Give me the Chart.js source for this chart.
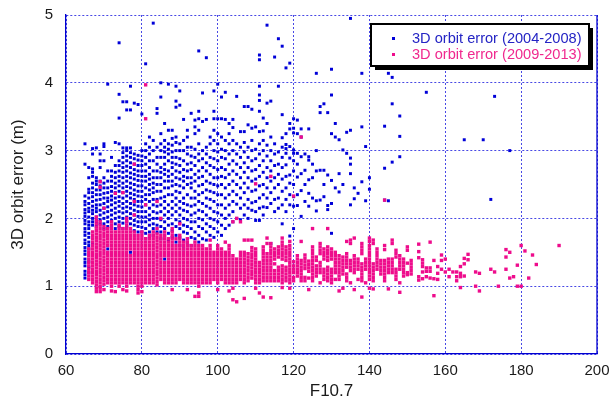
<!DOCTYPE html>
<html>
<head>
<meta charset="utf-8">
<title>3D orbit error vs F10.7</title>
<script src="https://cdn.jsdelivr.net/npm/chart.js@4.4.1/dist/chart.umd.min.js"></script>
<style>
  html, body { margin: 0; padding: 0; background: #fff; }
  #chart { display: block; }
</style>
</head>
<body>
<canvas id="chart" width="611" height="412"></canvas>
<script>
// axis ticks
const xTicks = [60, 80, 100, 120, 140, 160, 180, 200];
const yTicks = [0, 1, 2, 3, 4, 5];

const seriesNames = ['3D orbit error (2004-2008)', '3D orbit error (2009-2013)'];
const seriesColors = ['#0000d8', '#ee0c8c'];
const legendTextColors = ['#2424c4', '#f0288e'];

// 2004-2008: [F10.7, [3D orbit error (m), ...]]
const err0408 = [
  [65, [1.12, 1.17, 1.22, 1.3, 1.35, 1.4, 1.47, 1.52, 1.57, 1.63, 1.68, 1.75, 1.8, 1.85, 1.92, 1.97, 2.03, 2.08, 2.13, 2.2, 2.25, 2.33, 2.8, 3.1]],
  [66, [1.2, 1.28, 1.36, 1.55, 1.6, 1.65, 1.72, 1.78, 1.85, 1.9, 1.95, 2.02, 2.1, 2.15, 2.22, 2.3, 2.38, 2.43, 2.6, 2.75]],
  [67, [1.62, 1.9, 1.95, 2.0, 2.07, 2.12, 2.18, 2.25, 2.32, 2.38, 2.45, 2.52, 2.62, 2.68, 2.73, 2.95, 3.03]],
  [68, [1.88, 1.95, 2.02, 2.1, 2.15, 2.2, 2.27, 2.35, 2.42, 2.5, 2.55, 2.6, 3.04]],
  [69, [1.92, 1.98, 2.05, 2.12, 2.2, 2.28, 2.35, 2.42, 2.48, 2.55, 2.75, 2.85, 2.95]],
  [70, [1.85, 1.92, 2.0, 2.08, 2.15, 2.22, 2.3, 2.37, 2.45, 2.52, 2.6, 2.85, 3.06, 3.1]],
  [71, [1.55, 1.88, 1.95, 2.02, 2.1, 2.17, 2.25, 2.3, 2.38, 2.45, 2.55, 2.7, 3.98]],
  [72, [1.9, 1.97, 2.05, 2.12, 2.2, 2.27, 2.33, 2.4, 2.47, 2.55, 2.62, 2.7, 2.9]],
  [73, [1.85, 1.92, 2.0, 2.08, 2.15, 2.23, 2.3, 2.38, 2.45, 2.52, 2.6, 2.68, 2.78, 3.12]],
  [74, [1.88, 1.95, 2.02, 2.1, 2.18, 2.25, 2.32, 2.4, 2.48, 2.55, 2.62, 2.7, 2.78, 2.85, 3.1, 3.48, 3.83, 4.59]],
  [75, [1.85, 1.93, 2.0, 2.08, 2.15, 2.22, 2.3, 2.38, 2.45, 2.52, 2.6, 2.68, 2.75, 2.82, 2.9, 2.97, 3.04, 3.72]],
  [76, [1.88, 1.95, 2.02, 2.1, 2.17, 2.25, 2.33, 2.4, 2.47, 2.55, 2.62, 2.7, 2.77, 2.85, 2.92, 3.0, 3.04, 3.6, 3.72]],
  [77, [1.5, 1.85, 1.92, 2.0, 2.07, 2.15, 2.22, 2.3, 2.37, 2.45, 2.52, 2.6, 2.67, 2.75, 2.82, 2.9, 2.97, 3.04, 3.6, 3.95]],
  [78, [1.82, 1.9, 1.97, 2.05, 2.12, 2.2, 2.28, 2.35, 2.42, 2.5, 2.58, 2.65, 2.72, 2.8, 2.88, 2.95, 3.7]],
  [79, [1.8, 1.88, 1.95, 2.03, 2.1, 2.18, 2.25, 2.33, 2.4, 2.48, 2.56, 2.63, 2.7, 2.78, 2.86, 2.93, 3.68]],
  [80, [1.8, 1.87, 1.95, 2.02, 2.1, 2.17, 2.25, 2.32, 2.4, 2.48, 2.55, 2.62, 2.7, 2.78, 2.85, 2.92, 3.0, 3.54]],
  [81, [1.7, 1.78, 1.85, 1.95, 2.02, 2.1, 2.2, 2.28, 2.35, 2.45, 2.55, 2.62, 2.7, 2.8, 2.9, 3.0, 3.1, 4.28]],
  [82, [1.72, 1.8, 1.9, 1.98, 2.05, 2.15, 2.25, 2.35, 2.42, 2.5, 2.58, 2.65, 2.75, 2.85, 2.95, 3.05, 3.2]],
  [83, [1.75, 1.85, 1.92, 2.0, 2.1, 2.2, 2.28, 2.38, 2.45, 2.52, 2.6, 2.7, 2.85, 3.0, 3.15, 4.88]],
  [84, [1.8, 1.9, 2.0, 2.08, 2.18, 2.28, 2.4, 2.5, 2.6, 2.7, 2.8, 2.9, 3.05, 3.55, 3.62]],
  [85, [1.7, 1.8, 1.88, 1.98, 2.1, 2.2, 2.3, 2.4, 2.5, 2.6, 2.68, 2.75, 2.9, 3.0, 3.1, 3.25, 3.79, 4.0]],
  [86, [1.4, 1.75, 1.85, 1.95, 2.05, 2.15, 2.25, 2.32, 2.45, 2.55, 2.65, 2.72, 2.8, 2.9, 2.98, 3.05, 3.15, 3.4]],
  [87, [1.68, 1.78, 1.9, 2.0, 2.1, 2.2, 2.35, 2.45, 2.55, 2.62, 2.7, 2.85, 2.95, 3.02, 3.1, 3.3, 3.98]],
  [88, [1.72, 1.82, 1.92, 2.05, 2.15, 2.25, 2.35, 2.48, 2.55, 2.65, 2.75, 2.82, 2.9, 2.98, 3.08, 3.18, 3.3]],
  [89, [1.65, 1.75, 1.88, 1.98, 2.1, 2.2, 2.3, 2.4, 2.5, 2.6, 2.7, 2.8, 2.9, 3.0, 3.12, 3.2, 3.64, 3.73, 3.95]],
  [90, [1.6, 1.72, 1.85, 1.95, 2.05, 2.15, 2.25, 2.38, 2.48, 2.58, 2.68, 2.78, 2.88, 3.0, 3.1, 3.67, 3.88]],
  [91, [1.55, 1.68, 1.8, 1.9, 2.0, 2.12, 2.22, 2.3, 2.45, 2.55, 2.62, 2.72, 2.85, 3.0, 3.15, 3.46]],
  [92, [1.65, 1.78, 1.88, 1.98, 2.1, 2.2, 2.35, 2.5, 2.6, 2.7, 2.8, 2.95, 3.05, 3.2, 3.3]],
  [93, [1.6, 1.72, 1.85, 1.95, 2.05, 2.18, 2.3, 2.45, 2.52, 2.6, 2.72, 2.82, 2.92, 3.05, 3.55]],
  [94, [1.7, 1.8, 1.95, 2.08, 2.2, 2.3, 2.4, 2.55, 2.65, 2.78, 2.9, 3.02, 3.25, 3.35, 3.45]],
  [95, [1.65, 1.75, 1.88, 2.0, 2.12, 2.25, 2.35, 2.48, 2.6, 2.7, 2.85, 2.95, 3.1, 3.3, 3.47, 3.58, 4.47]],
  [96, [1.7, 1.85, 1.98, 2.1, 2.22, 2.38, 2.5, 2.62, 2.75, 2.88, 3.0, 3.43, 3.85]],
  [97, [1.68, 1.8, 1.92, 2.05, 2.18, 2.3, 2.42, 2.55, 2.7, 2.82, 2.95, 3.05, 3.46, 4.37]],
  [98, [1.75, 1.88, 2.0, 2.15, 2.28, 2.4, 2.52, 2.65, 2.78, 2.9, 3.1, 3.2]],
  [99, [1.72, 1.85, 1.98, 2.1, 2.25, 2.38, 2.5, 2.6, 2.75, 2.88, 3.0, 3.15, 3.3, 3.47, 3.58, 3.88]],
  [100, [1.8, 1.95, 2.08, 2.2, 2.35, 2.48, 2.6, 2.72, 2.85, 2.98, 3.1, 3.25, 3.47, 3.98]],
  [101, [1.75, 1.9, 2.05, 2.2, 2.35, 2.5, 2.62, 2.75, 2.9, 3.02, 3.2, 3.47, 3.79]],
  [102, [1.85, 2.0, 2.15, 2.3, 2.45, 2.6, 2.72, 2.88, 3.0, 3.15, 3.46, 3.86]],
  [103, [1.9, 2.05, 2.2, 2.35, 2.5, 2.65, 2.8, 2.95, 3.1, 3.25, 3.4]],
  [104, [1.95, 2.1, 2.25, 2.4, 2.55, 2.7, 2.85, 3.0, 3.15, 3.34, 3.46]],
  [105, [2.0, 2.21, 2.35, 2.5, 2.65, 2.8, 2.95, 3.1, 3.8]],
  [106, [1.98, 2.15, 2.3, 2.45, 2.6, 2.75, 2.9, 3.05, 3.28]],
  [107, [2.05, 2.2, 2.38, 2.52, 2.68, 2.82, 2.98, 3.12, 3.28, 3.65]],
  [108, [2.0, 2.15, 2.28, 2.45, 2.6, 2.75, 2.9, 3.05, 3.38, 3.65]],
  [109, [2.12, 2.23, 2.4, 2.55, 2.7, 2.85, 3.0, 3.15, 3.33, 3.61]],
  [110, [1.97, 2.1, 2.25, 2.42, 2.58, 2.72, 2.88, 3.02, 3.35]],
  [111, [1.97, 2.15, 2.3, 2.48, 2.62, 2.78, 2.95, 3.1, 3.28, 3.58, 3.74, 3.82, 3.95, 4.34, 4.41]],
  [112, [2.05, 2.17, 2.35, 2.5, 2.68, 2.85, 3.0, 3.15, 3.29, 3.48]],
  [113, [2.16, 2.3, 2.45, 2.6, 2.75, 2.92, 3.08, 3.4, 3.7, 4.85]],
  [114, [1.63, 2.22, 2.38, 2.55, 2.7, 2.85, 3.0, 3.2, 3.73]],
  [115, [2.1, 2.28, 2.45, 2.6, 2.78, 2.95, 3.1, 4.38]],
  [116, [2.15, 2.3, 2.5, 2.65, 2.8, 2.98, 3.95, 4.65]],
  [117, [1.92, 2.2, 2.4, 2.58, 2.75, 2.9, 3.05, 3.19, 3.53, 4.54]],
  [118, [2.1, 2.28, 2.45, 2.62, 2.79, 2.96, 3.03, 3.09, 3.25, 4.22]],
  [119, [1.74, 2.2, 2.35, 2.52, 2.64, 2.89, 3.06, 3.32, 3.4, 4.29]],
  [120, [1.85, 2.18, 2.32, 2.5, 2.7, 2.85, 2.96, 3.01, 3.26, 3.33, 3.47]],
  [121, [2.19, 2.35, 2.61, 2.8, 2.96, 3.25, 3.45]],
  [122, [2.03, 2.41, 2.66, 2.91, 3.2, 3.32]],
  [123, [2.25, 2.5, 2.71, 2.95]],
  [124, [2.18, 2.37, 2.57, 2.86, 2.91, 3.32]],
  [125, [2.3, 2.6, 2.8]],
  [126, [2.11, 2.26, 2.7, 3.0, 4.14]],
  [127, [2.27, 2.71, 3.56, 3.65]],
  [128, [2.32, 2.5, 2.71, 3.69]],
  [129, [2.13, 2.19, 2.64, 3.56]],
  [130, [1.78, 2.22, 2.56, 3.25, 3.82, 4.2]],
  [131, [2.45, 3.2, 3.4]],
  [132, [2.39, 2.66, 3.16]],
  [133, [2.5, 3.01]],
  [134, [2.96, 3.27]],
  [135, [2.2, 2.66, 2.8, 2.89, 3.3, 4.95]],
  [136, [2.29, 2.45]],
  [137, [2.37]],
  [138, [2.54, 3.35, 4.14]],
  [139, [2.26, 3.06]],
  [140, [2.43, 2.6]],
  [144, [2.27, 2.74, 3.36]],
  [145, [2.26, 4.14]],
  [146, [2.83, 3.69, 4.08]],
  [148, [2.91, 3.21, 3.51]],
  [155, [3.86]],
  [165, [3.16]],
  [170, [3.16]],
  [172, [2.28]],
  [173, [3.8]],
  [177, [3.0]]
];

// 2009-2013: [F10.7, [3D orbit error (m), ...]]
const err0913 = [
  [66, [1.1, 1.15, 1.2, 1.25, 1.3, 1.35, 1.4, 1.45, 1.5, 1.55]],
  [67, [1.05, 1.1, 1.15, 1.2, 1.25, 1.3, 1.35, 1.4, 1.45, 1.5, 1.55, 1.6, 1.65, 1.7, 1.75, 1.8]],
  [68, [0.92, 0.97, 1.02, 1.07, 1.12, 1.17, 1.22, 1.27, 1.32, 1.37, 1.42, 1.47, 1.52, 1.57, 1.62, 1.67, 1.72, 1.77, 1.82, 1.87, 1.92, 1.97, 2.02]],
  [69, [0.92, 0.97, 1.0, 1.05, 1.1, 1.15, 1.2, 1.25, 1.3, 1.35, 1.4, 1.45, 1.5, 1.55, 1.6, 1.65, 1.7, 1.75, 1.8, 1.85, 1.9, 1.95, 2.46, 2.54]],
  [70, [0.95, 1.03, 1.08, 1.13, 1.18, 1.23, 1.28, 1.33, 1.38, 1.43, 1.48, 1.53, 1.58, 1.63, 1.68, 1.73, 1.78, 1.83, 1.88, 2.15]],
  [71, [1.05, 1.1, 1.15, 1.2, 1.25, 1.3, 1.35, 1.4, 1.45, 1.5, 1.6, 1.65, 1.7, 1.75, 1.8, 1.85]],
  [72, [0.93, 1.0, 1.05, 1.1, 1.15, 1.2, 1.25, 1.3, 1.35, 1.4, 1.45, 1.5, 1.55, 1.6, 1.65, 1.7, 1.75, 1.8, 1.85, 1.9, 1.95]],
  [73, [0.92, 1.05, 1.1, 1.15, 1.2, 1.25, 1.3, 1.35, 1.4, 1.45, 1.5, 1.55, 1.6, 1.65, 1.7, 1.75, 1.8, 2.37]],
  [74, [1.0, 1.05, 1.1, 1.15, 1.2, 1.25, 1.3, 1.35, 1.4, 1.45, 1.5, 1.55, 1.6, 1.65, 1.7, 1.75, 1.8, 1.85, 1.9]],
  [75, [0.95, 1.05, 1.1, 1.15, 1.2, 1.25, 1.3, 1.35, 1.4, 1.45, 1.5, 1.55, 1.6, 1.65, 1.7, 1.75, 1.8, 1.85, 2.38]],
  [76, [0.93, 1.0, 1.05, 1.1, 1.15, 1.2, 1.25, 1.3, 1.35, 1.4, 1.45, 1.5, 1.55, 1.6, 1.65, 1.7, 1.75, 1.8, 1.85, 1.9, 1.95, 2.0]],
  [77, [1.05, 1.1, 1.15, 1.2, 1.25, 1.3, 1.35, 1.4, 1.45, 1.55, 1.6, 1.65, 1.7, 1.75, 1.8, 1.85]],
  [78, [1.05, 1.1, 1.15, 1.2, 1.25, 1.3, 1.35, 1.4, 1.45, 1.5, 1.55, 1.6, 1.65, 1.7, 1.75, 1.8, 2.05, 2.25, 2.8]],
  [79, [0.9, 0.95, 1.0, 1.05, 1.1, 1.15, 1.2, 1.25, 1.3, 1.35, 1.4, 1.45, 1.5, 1.55, 1.6, 1.65, 1.7, 1.75]],
  [80, [0.92, 1.0, 1.05, 1.1, 1.15, 1.2, 1.25, 1.3, 1.35, 1.4, 1.45, 1.5, 1.55, 1.6, 1.65, 1.7, 1.75, 1.8]],
  [81, [1.05, 1.1, 1.15, 1.2, 1.25, 1.3, 1.35, 1.4, 1.45, 1.5, 1.55, 1.6, 1.65, 1.7, 2.2, 3.47, 3.97]],
  [82, [1.05, 1.1, 1.15, 1.2, 1.25, 1.3, 1.35, 1.4, 1.45, 1.5, 1.55, 1.6, 1.65, 1.7, 1.75]],
  [83, [1.05, 1.1, 1.15, 1.2, 1.25, 1.3, 1.35, 1.4, 1.45, 1.5, 1.55, 1.6, 1.65, 1.7, 1.75, 1.8]],
  [84, [1.02, 1.07, 1.12, 1.17, 1.22, 1.27, 1.32, 1.37, 1.42, 1.47, 1.52, 1.57, 1.62, 1.67, 1.72, 1.77, 1.85, 2.25]],
  [85, [1.1, 1.15, 1.2, 1.25, 1.3, 1.35, 1.4, 1.45, 1.5, 1.55, 1.6, 1.65, 1.7, 1.75, 2.0]],
  [86, [1.05, 1.1, 1.15, 1.2, 1.25, 1.3, 1.35, 1.45, 1.5, 1.55, 1.6, 1.65, 1.7, 1.75, 1.8]],
  [87, [1.05, 1.1, 1.15, 1.2, 1.25, 1.3, 1.35, 1.4, 1.45, 1.5, 1.55, 1.6, 1.65, 1.7]],
  [88, [0.95, 1.05, 1.1, 1.15, 1.2, 1.25, 1.3, 1.35, 1.4, 1.45, 1.5, 1.55, 1.6, 1.65, 1.7, 1.75, 1.8, 1.85]],
  [89, [1.05, 1.1, 1.15, 1.2, 1.25, 1.3, 1.35, 1.4, 1.45, 1.5, 1.55, 1.6, 1.7]],
  [90, [1.1, 1.15, 1.2, 1.25, 1.3, 1.35, 1.4, 1.45, 1.5, 1.55, 1.6, 1.65, 1.7, 1.75, 1.92]],
  [91, [1.05, 1.1, 1.15, 1.2, 1.25, 1.3, 1.35, 1.4, 1.45, 1.5, 1.55, 1.6, 1.65]],
  [92, [0.95, 1.05, 1.1, 1.15, 1.2, 1.25, 1.3, 1.35, 1.4, 1.45, 1.5, 1.55, 1.6, 1.65, 1.7]],
  [93, [1.05, 1.1, 1.15, 1.2, 1.25, 1.3, 1.35, 1.4, 1.45, 1.5, 1.55, 1.6]],
  [94, [0.85, 1.05, 1.1, 1.15, 1.2, 1.25, 1.3, 1.35, 1.4, 1.45, 1.5, 1.55, 1.6, 1.65]],
  [95, [0.85, 0.9, 1.0, 1.05, 1.1, 1.15, 1.2, 1.25, 1.3, 1.35, 1.4, 1.45, 1.5, 1.55, 1.6]],
  [96, [1.05, 1.1, 1.15, 1.2, 1.25, 1.3, 1.35, 1.4, 1.45, 1.5, 1.55, 1.6]],
  [97, [1.05, 1.1, 1.15, 1.2, 1.25, 1.3, 1.35, 1.4, 1.45, 1.5, 1.55]],
  [98, [1.05, 1.1, 1.15, 1.2, 1.25, 1.3, 1.35, 1.4, 1.45, 1.5, 1.55, 1.6, 1.68]],
  [99, [1.1, 1.15, 1.2, 1.25, 1.3, 1.35, 1.4, 1.45, 1.5]],
  [100, [0.95, 1.05, 1.1, 1.15, 1.2, 1.25, 1.3, 1.35, 1.4, 1.45, 1.5, 1.55, 1.6]],
  [101, [1.1, 1.15, 1.2, 1.25, 1.3, 1.35, 1.4, 1.45, 1.5, 1.55]],
  [102, [1.05, 1.1, 1.15, 1.2, 1.25, 1.3, 1.35, 1.4, 1.45, 1.5, 1.65]],
  [103, [0.93, 1.05, 1.1, 1.15, 1.2, 1.25, 1.3, 1.35, 1.4, 1.45, 1.5, 1.55, 1.6]],
  [104, [0.8, 0.97, 1.05, 1.1, 1.15, 1.2, 1.25, 1.3, 1.35, 1.4, 1.45, 1.95]],
  [105, [0.77, 1.05, 1.1, 1.15, 1.2, 1.25, 1.3, 1.35, 1.4, 2.0]],
  [106, [1.1, 1.15, 1.2, 1.25, 1.3, 1.35, 1.4, 1.45, 1.5, 1.95]],
  [107, [0.82, 1.05, 1.1, 1.15, 1.2, 1.25, 1.3, 1.35, 1.4, 1.45, 1.5, 1.68]],
  [108, [1.08, 1.13, 1.18, 1.23, 1.28, 1.33, 1.38, 1.43, 1.48, 1.68]],
  [109, [1.12, 1.17, 1.22, 1.27, 1.32, 1.37, 1.42, 1.47, 1.52, 1.57, 1.68]],
  [110, [0.97, 1.05, 1.1, 1.15, 1.2, 1.25, 1.3, 1.35, 1.4, 1.45, 1.5, 1.55, 2.51]],
  [111, [0.9, 1.05, 1.1, 1.15, 1.2, 1.25, 1.3, 1.35]],
  [112, [0.84, 1.08, 1.13, 1.18, 1.23, 1.28, 1.33, 1.38, 1.43, 1.48, 1.53, 1.58]],
  [113, [1.08, 1.13, 1.18, 1.23, 1.28, 1.33, 1.38, 1.43, 1.48, 1.63, 1.71]],
  [114, [0.83, 1.08, 1.13, 1.18, 1.23, 1.28, 1.33, 1.38, 1.43, 1.48, 1.53, 1.58, 1.63, 2.62]],
  [115, [1.08, 1.13, 1.18, 1.23, 1.33, 1.4, 1.45, 1.5, 1.55]],
  [116, [1.08, 1.13, 1.18, 1.23, 1.28, 1.43, 1.48, 1.53, 1.58]],
  [117, [0.98, 1.05, 1.1, 1.15, 1.2, 1.25, 1.3, 1.4, 1.45, 1.5, 1.55, 1.6, 1.65, 1.71]],
  [118, [1.08, 1.13, 1.18, 1.23, 1.28, 1.38, 1.43, 1.48, 1.53, 1.58]],
  [119, [0.97, 1.05, 1.1, 1.15, 1.2, 1.25, 1.3, 1.35, 1.4, 1.45, 1.5, 1.55, 1.6, 1.66]],
  [120, [1.08, 1.13, 1.2, 1.25, 1.3, 1.36, 2.33]],
  [121, [1.15, 1.2, 1.25, 1.3, 1.35, 1.4, 1.45]],
  [122, [1.08, 1.13, 1.18, 1.23, 1.28, 1.33, 1.38, 1.66, 3.2]],
  [123, [1.08, 1.13, 1.26, 1.31, 1.36, 1.41, 1.46]],
  [124, [0.95, 1.12, 1.22, 1.27, 1.32, 1.37]],
  [125, [1.08, 1.13, 1.18, 1.23, 1.28, 1.33, 1.38, 1.43, 1.48, 1.53, 1.58, 1.85]],
  [126, [1.15, 1.2, 1.25, 1.3, 1.38, 1.43]],
  [127, [1.05, 1.2, 1.25, 1.3, 1.35, 1.48, 1.53, 1.58, 1.63]],
  [128, [1.1, 1.15, 1.2, 1.25, 1.4, 1.45, 1.5, 1.55]],
  [129, [1.08, 1.13, 1.18, 1.23, 1.28, 1.38, 1.43, 1.48, 1.53, 1.58, 1.85]],
  [130, [1.05, 1.1, 1.15, 1.2, 1.25, 1.4, 1.45, 1.5, 1.55]],
  [131, [1.1, 1.2, 1.25, 1.3, 1.35, 1.4, 1.45, 1.5]],
  [132, [0.93, 1.1, 1.15, 1.2, 1.25, 1.3, 1.35, 1.4, 1.45]],
  [133, [0.97, 1.18, 1.23, 1.28, 1.33, 1.38, 1.43]],
  [134, [1.08, 1.13, 1.18, 1.28, 1.33, 1.38, 1.43, 1.48, 1.66]],
  [135, [1.05, 1.23, 1.28, 1.33, 1.38, 1.63, 1.68]],
  [136, [0.95, 1.2, 1.25, 1.3, 1.35, 1.4, 1.45, 1.71]],
  [137, [1.1, 1.25, 1.3, 1.35, 1.4]],
  [138, [0.84, 1.08, 1.13, 1.18, 1.23, 1.28, 1.33, 1.48, 1.53, 1.58, 1.63]],
  [139, [1.05, 1.25, 1.3, 1.35, 1.4]],
  [140, [0.97, 1.1, 1.15, 1.2, 1.25, 1.3, 1.35, 1.4, 1.45, 1.5, 1.55, 1.6, 1.66, 1.71]],
  [141, [0.96, 1.08, 1.13, 1.18, 1.23, 1.28, 1.33, 1.63, 1.68]],
  [142, [1.25, 1.3, 1.35, 1.4, 1.45, 1.5, 1.55]],
  [143, [1.18, 1.23, 1.28, 1.33, 1.38]],
  [144, [1.08, 1.13, 1.18, 1.23, 1.28, 1.33, 1.38, 1.54, 1.6, 2.27]],
  [145, [0.96, 1.2, 1.25, 1.3, 1.35, 1.4]],
  [146, [1.2, 1.25, 1.3, 1.35, 1.4, 1.63, 1.68]],
  [147, [1.1, 1.15, 1.2, 1.25, 1.43, 1.48, 1.53]],
  [148, [0.91, 1.05, 1.25, 1.3, 1.35, 1.4, 1.45]],
  [149, [1.15, 1.2, 1.25, 1.3, 1.35, 1.4]],
  [150, [1.17, 1.2, 1.34, 1.53, 1.58]],
  [151, [1.18, 1.23, 1.28, 1.33, 1.38]],
  [153, [1.09, 1.14, 1.42, 1.51, 1.62]],
  [154, [1.11, 1.21, 1.29, 1.34, 1.39]],
  [155, [1.14, 1.22, 1.27]],
  [156, [1.12, 1.22, 1.27, 1.65]],
  [157, [0.86, 1.11, 1.38]],
  [158, [1.1, 1.19, 1.29]],
  [159, [1.25, 1.38, 1.46]],
  [160, [1.21, 1.4]],
  [161, [1.14, 1.25]],
  [162, [1.21]],
  [163, [1.08, 1.14, 1.21]],
  [164, [0.98, 1.14, 1.19, 1.29]],
  [165, [1.15, 1.33, 1.41]],
  [166, [1.39, 1.47]],
  [168, [1.0, 1.21]],
  [169, [0.93, 1.19]],
  [172, [1.25]],
  [173, [1.21]],
  [174, [1.0]],
  [176, [1.25, 1.43, 1.54]],
  [177, [1.12, 1.5]],
  [178, [1.14]],
  [179, [1.0, 1.31]],
  [180, [1.0, 1.6]],
  [181, [1.52]],
  [182, [1.12]],
  [183, [1.46]],
  [184, [1.32]],
  [190, [1.6]]
];

function toPoints(cols) {
  const pts = [];
  cols.forEach(col => {
    col[1].forEach(e => pts.push({ x: col[0], y: e }));
  });
  return pts;
}

const FONT = 'Arial, "Liberation Sans", sans-serif';

// solid right edge + boxed legend with shadow
const framePlugin = {
  id: 'frame',
  afterDatasetsDraw(chart) {
    const ctx = chart.ctx;
    const a = chart.chartArea;
    ctx.save();
    ctx.strokeStyle = '#0000d0';
    ctx.lineWidth = 1.3;
    ctx.beginPath();
    ctx.moveTo(a.right, a.top);
    ctx.lineTo(a.right, a.bottom);
    ctx.stroke();
    ctx.restore();
  },
  afterDraw(chart) {
    const ctx = chart.ctx;
    const bx = 371, by = 24, bw = 218, bh = 42;
    ctx.save();
    ctx.fillStyle = '#000';
    ctx.fillRect(bx + 4, by + 4, bw, bh);
    ctx.fillStyle = '#fff';
    ctx.fillRect(bx, by, bw, bh);
    ctx.lineWidth = 2;
    ctx.strokeStyle = '#000';
    ctx.strokeRect(bx, by, bw, bh);

    ctx.font = '14.6px ' + FONT;
    ctx.textBaseline = 'middle';
    ctx.textAlign = 'left';
    seriesNames.forEach((name, i) => {
      const y = 38.5 + i * 16;
      ctx.fillStyle = seriesColors[i];
      ctx.fillRect(392, y - 1.5, 3, 3);
      ctx.fillStyle = legendTextColors[i];
      ctx.fillText(name, 412, y);
    });
    ctx.restore();
  }
};

// keep the plot box where the layout padding puts it
function noScalePadding(scale) {
  scale.paddingTop = 0;
  scale.paddingBottom = 0;
  scale.paddingLeft = 0;
  scale.paddingRight = 0;
}

const gridStyle = {
  color: 'rgba(40, 40, 225, 0.85)',
  lineWidth: 1,
  drawTicks: false
};
const borderStyle = { display: true, color: '#0000d0', width: 1.3, dash: [2, 2] };

new Chart(document.getElementById('chart').getContext('2d'), {
  type: 'scatter',
  data: {
    datasets: [
      {
        label: seriesNames[0],
        data: toPoints(err0408),
        backgroundColor: seriesColors[0],
        pointStyle: 'rect',
        pointRadius: 2.1,
        pointBorderWidth: 0,
        order: 2
      },
      {
        label: seriesNames[1],
        data: toPoints(err0913),
        backgroundColor: seriesColors[1],
        pointStyle: 'rect',
        pointRadius: 2.4,
        pointBorderWidth: 0,
        order: 1
      }
    ]
  },
  options: {
    responsive: false,
    animation: false,
    events: [],
    layout: { padding: { left: 0, top: 15, right: 14, bottom: 0 } },
    plugins: {
      legend: { display: false },
      tooltip: { enabled: false }
    },
    scales: {
      x: {
        type: 'linear',
        min: xTicks[0],
        max: xTicks[xTicks.length - 1],
        afterBuildTicks: scale => { scale.ticks = xTicks.map(v => ({ value: v })); },
        afterFit: scale => { scale.height = 58; noScalePadding(scale); },
        grid: gridStyle,
        border: borderStyle,
        ticks: { padding: 8, color: '#1a1a1a', font: { family: FONT, size: 15 } },
        title: {
          display: true,
          text: 'F10.7',
          color: '#1a1a1a',
          font: { family: FONT, size: 17 },
          padding: { top: 0, bottom: 10 }
        }
      },
      y: {
        type: 'linear',
        min: yTicks[0],
        max: yTicks[yTicks.length - 1],
        afterBuildTicks: scale => { scale.ticks = yTicks.map(v => ({ value: v })); },
        afterFit: scale => { scale.width = 66; noScalePadding(scale); },
        grid: gridStyle,
        border: borderStyle,
        ticks: { padding: 13, color: '#1a1a1a', font: { family: FONT, size: 15 } },
        title: {
          display: true,
          text: '3D orbit error (m)',
          color: '#1a1a1a',
          font: { family: FONT, size: 17 },
          padding: { top: 8, bottom: 0 }
        }
      }
    }
  },
  plugins: [framePlugin]
});
</script>
</body>
</html>
